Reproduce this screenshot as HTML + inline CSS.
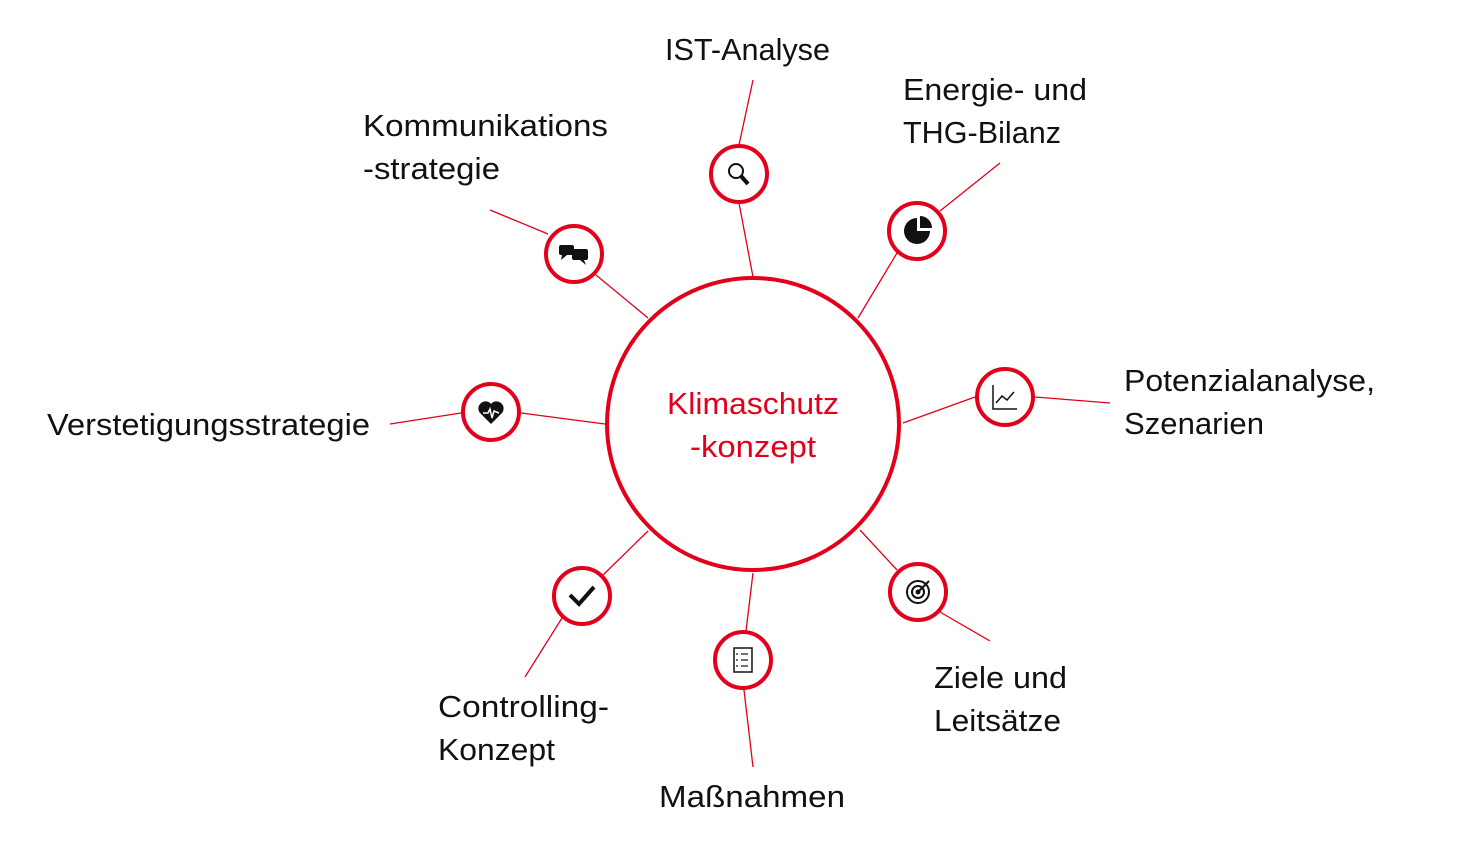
<!DOCTYPE html>
<html><head><meta charset="utf-8"><style>
html,body{margin:0;padding:0;background:#fff;}
svg{display:block;}
text{font-family:"Liberation Sans",sans-serif;font-size:31px;fill:#111;}
</style></head><body>
<svg width="1461" height="853" viewBox="0 0 1461 853" xmlns="http://www.w3.org/2000/svg">
<g stroke="#e2001a" stroke-width="1.3" fill="none">
<line x1="753" y1="277" x2="739" y2="203"/><line x1="739" y1="145" x2="753" y2="80"/>
<line x1="858" y1="318" x2="897" y2="253"/><line x1="940" y1="211" x2="1000" y2="163"/>
<line x1="903" y1="423" x2="975" y2="397"/><line x1="1035" y1="397" x2="1110" y2="403"/>
<line x1="860" y1="530" x2="897" y2="570"/><line x1="940" y1="612" x2="990" y2="641"/>
<line x1="753" y1="573" x2="746" y2="631"/><line x1="744" y1="690" x2="753" y2="767"/>
<line x1="648" y1="531" x2="603" y2="575"/><line x1="562" y1="618" x2="525" y2="677"/>
<line x1="605" y1="424" x2="521" y2="413"/><line x1="461" y1="413" x2="390" y2="424"/>
<line x1="648" y1="318" x2="596" y2="275"/><line x1="548" y1="234" x2="490" y2="210"/>
</g>
<circle cx="753" cy="424" r="146" fill="#fff" stroke="#e2001a" stroke-width="4"/>
<g fill="#fff" stroke="#e2001a" stroke-width="4">
<circle cx="739" cy="174" r="28"/><circle cx="917" cy="231" r="28"/>
<circle cx="1005" cy="397" r="28"/><circle cx="918" cy="592" r="28"/>
<circle cx="743" cy="660" r="28"/><circle cx="582" cy="596" r="28"/>
<circle cx="491" cy="412" r="28"/><circle cx="574" cy="254" r="28"/>
</g>
<g stroke="#111" fill="none" stroke-width="2">
<circle cx="736" cy="171" r="7"/><line x1="741" y1="176" x2="748" y2="184" stroke-width="4"/>
<polyline points="993,385 993,409 1017,409" stroke-width="1.5"/>
<polyline points="996,403 1002,396 1007,400 1014,392" stroke-width="1.5"/>
<circle cx="918" cy="592" r="11" stroke-width="2"/><circle cx="918" cy="592" r="6"/>
<line x1="918" y1="592" x2="929" y2="581"/>
<rect x="734" y="648" width="18" height="24" stroke-width="1.5"/>
<line x1="741" y1="654" x2="748" y2="654" stroke-width="1.2"/><line x1="741" y1="660" x2="748" y2="660" stroke-width="1.2"/><line x1="741" y1="666" x2="748" y2="666" stroke-width="1.2"/>
<line x1="736" y1="654" x2="738" y2="654" stroke-width="1.2"/><line x1="736" y1="660" x2="738" y2="660" stroke-width="1.2"/><line x1="736" y1="666" x2="738" y2="666" stroke-width="1.2"/>
<polyline points="570,595 579,604 594,587" stroke-width="4"/>
</g>
<g fill="#111">
<path d="M917,231 L917,218 A13,13 0 1 0 930,231 Z"/><path d="M920,228 L920,216 A12,12 0 0 1 932,228 Z"/>
<circle cx="918" cy="592" r="2.5"/>
<path d="M491,424 L480,413 A6,6 0 0 1 491,404 A6,6 0 0 1 502,413 Z"/>
<rect x="559" y="245" width="15" height="10" rx="2"/><path d="M562,255 L561,260 L567,255Z"/>
<rect x="572" y="249" width="16" height="11" rx="2"/><path d="M584,260 L586,265 L580,260Z"/>
</g>
<polyline points="483,413 488,413 490,409 492,418 494,411 499,413" stroke="#fff" stroke-width="1.5" fill="none"/>
<g lengthAdjust="spacingAndGlyphs">
<text x="753" y="414" text-anchor="middle" style="fill:#e2001a" textLength="172" lengthAdjust="spacingAndGlyphs">Klimaschutz</text>
<text x="753" y="457" text-anchor="middle" style="fill:#e2001a" textLength="126" lengthAdjust="spacingAndGlyphs">-konzept</text>
<text x="665" y="60" textLength="165" lengthAdjust="spacingAndGlyphs">IST-Analyse</text>
<text x="903" y="100" textLength="184" lengthAdjust="spacingAndGlyphs">Energie- und</text>
<text x="903" y="143" textLength="158" lengthAdjust="spacingAndGlyphs">THG-Bilanz</text>
<text x="1124" y="391" textLength="251" lengthAdjust="spacingAndGlyphs">Potenzialanalyse,</text>
<text x="1124" y="434" textLength="140" lengthAdjust="spacingAndGlyphs">Szenarien</text>
<text x="934" y="688" textLength="133" lengthAdjust="spacingAndGlyphs">Ziele und</text>
<text x="934" y="731" textLength="127" lengthAdjust="spacingAndGlyphs">Leitsätze</text>
<text x="659" y="807" textLength="186" lengthAdjust="spacingAndGlyphs">Maßnahmen</text>
<text x="438" y="717" textLength="171" lengthAdjust="spacingAndGlyphs">Controlling-</text>
<text x="438" y="760" textLength="117" lengthAdjust="spacingAndGlyphs">Konzept</text>
<text x="47" y="435" textLength="323" lengthAdjust="spacingAndGlyphs">Verstetigungsstrategie</text>
<text x="363" y="136" textLength="245" lengthAdjust="spacingAndGlyphs">Kommunikations</text>
<text x="363" y="179" textLength="137" lengthAdjust="spacingAndGlyphs">-strategie</text>
</g>
</svg>
</body></html>
